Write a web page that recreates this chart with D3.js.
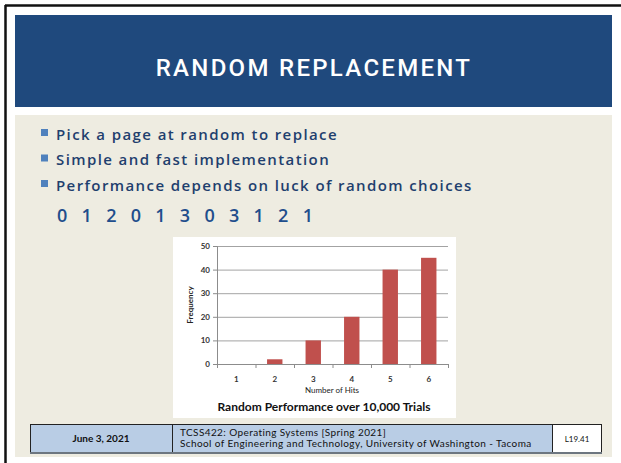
<!DOCTYPE html>
<html>
<head>
<meta charset="utf-8">
<script src="https://cdn.jsdelivr.net/npm/d3@7"></script>
<style>
  body { margin: 0; background: #fff; }
  svg { display: block; }
</style>
</head>
<body>
<script>
const width = 621;
const height = 463;

// chart data
const hits = ["1", "2", "3", "4", "5", "6"];
const frequency = [0, 2, 10, 20, 40, 45];
const yTicks = [0, 10, 20, 30, 40, 50];

// slide text
const title = "RANDOM REPLACEMENT";
const bullets = [
  "Pick a page at random to replace",
  "Simple and fast implementation",
  "Performance depends on luck of random choices"
];
const refString = "0 1 2 0 1 3 0 3 1 2 1";

const svg = d3.select("body").append("svg")
  .attr("width", width)
  .attr("height", height);

// slide frame
svg.append("rect").attr("x", 0).attr("y", 0).attr("width", width).attr("height", height).attr("fill", "#fff");
svg.append("line").attr("x1", 5).attr("x2", width).attr("y1", 5.5).attr("y2", 5.5)
  .attr("stroke", "#111").attr("stroke-width", 2.5);
svg.append("line").attr("x1", 5.5).attr("x2", 5.5).attr("y1", 5).attr("y2", height)
  .attr("stroke", "#111").attr("stroke-width", 2.5);

// header
svg.append("rect").attr("x", 15).attr("y", 15).attr("width", 597).attr("height", 92).attr("fill", "#1f497d");
svg.append("text")
  .attr("x", 314).attr("y", 76)
  .attr("text-anchor", "middle")
  .attr("fill", "#fff")
  .style("font-family", "Roboto, sans-serif")
  .style("font-weight", "500")
  .style("font-size", "24px")
  .style("letter-spacing", "2.3px")
  .text(title);

// body
svg.append("rect").attr("x", 15).attr("y", 115).attr("width", 597).attr("height", 342).attr("fill", "#eeece1");

const bl = svg.append("g");
bullets.forEach((t, i) => {
  const yy = 134 + i * 25.5;
  bl.append("rect").attr("x", 41).attr("y", yy - 5).attr("width", 7).attr("height", 7).attr("fill", "#4f81bd");
  bl.append("text")
    .attr("x", 56).attr("y", yy + 5.5)
    .attr("fill", "#1f3f6e")
    .style("font-family", "'Open Sans', sans-serif")
    .style("font-weight", "600")
    .style("font-size", "15px")
    .style("letter-spacing", "1.4px")
    .text(t);
});
svg.append("text")
  .attr("x", 57).attr("y", 222)
  .attr("fill", "#1f4e8c")
  .style("font-family", "'Open Sans', sans-serif")
  .style("font-weight", "600")
  .style("font-size", "18px")
  .style("letter-spacing", "4.8px")
  .attr("xml:space", "preserve")
  .text(refString);

// chart panel
svg.append("rect").attr("x", 173).attr("y", 237).attr("width", 283).attr("height", 181).attr("fill", "#fff");

const margin = {top: 246, bottom: 364, left: 217, right: 448};

const x = d3.scaleBand()
  .domain(hits)
  .range([margin.left, margin.right])
  .paddingInner(0.6)
  .paddingOuter(0.3);

const y = d3.scaleLinear()
  .domain([0, 50])
  .range([margin.bottom, margin.top]);

const tickFont = g => g.selectAll("text")
  .style("font-family", "Lato, sans-serif")
  .style("font-weight", "bold")
  .style("font-size", "8px")
  .attr("fill", "#333");

// gridlines
svg.append("g")
  .selectAll("line")
  .data(yTicks.filter(d => d > 0))
  .join("line")
  .attr("x1", margin.left).attr("x2", margin.right)
  .attr("y1", d => y(d) + 0.5).attr("y2", d => y(d) + 0.5)
  .attr("stroke", "#8c8c8c").attr("stroke-width", 0.8);

// y axis
svg.append("g")
  .attr("transform", `translate(${margin.left},0)`)
  .call(d3.axisLeft(y).tickValues(yTicks).tickSize(4).tickPadding(3))
  .call(g => g.selectAll("line, .domain").attr("stroke", "#8c8c8c"))
  .call(tickFont);

// bars
svg.append("g")
  .selectAll("rect")
  .data(hits.map((h, i) => ({h, v: frequency[i]})))
  .join("rect")
  .attr("x", d => x(d.h))
  .attr("width", x.bandwidth())
  .attr("y", d => y(d.v))
  .attr("height", d => y(0) - y(d.v))
  .attr("fill", "#c0504d");

// x axis
const step = x.step();
const gap = step - x.bandwidth();
const bounds = hits.map(h => x(h) - gap / 2).concat([x(hits[hits.length - 1]) + x.bandwidth() + gap / 2]);
svg.append("g")
  .attr("transform", `translate(0,${margin.bottom})`)
  .call(d3.axisBottom(x).tickSize(0).tickPadding(12).tickSizeOuter(0))
  .call(g => g.select(".domain").attr("stroke", "#8c8c8c"))
  .call(tickFont)
  .call(g => g.selectAll(".bound")
    .data(bounds)
    .join("line")
    .attr("class", "bound")
    .attr("x1", d => d + 0.5).attr("x2", d => d + 0.5)
    .attr("y1", 0).attr("y2", 4)
    .attr("stroke", "#8c8c8c"));

svg.append("text")
  .attr("x", 332).attr("y", 393)
  .attr("text-anchor", "middle")
  .style("font-family", "Lato, sans-serif")
  .style("font-size", "8px")
  .attr("fill", "#222")
  .text("Number of Hits");

svg.append("text")
  .attr("transform", "translate(193,305) rotate(-90)")
  .attr("text-anchor", "middle")
  .style("font-family", "Lato, sans-serif")
  .style("font-weight", "bold")
  .style("font-size", "8px")
  .attr("fill", "#222")
  .text("Frequency");

svg.append("text")
  .attr("x", 324).attr("y", 411)
  .attr("text-anchor", "middle")
  .style("font-family", "Lato, sans-serif")
  .style("font-weight", "bold")
  .style("font-size", "12px")
  .attr("fill", "#111")
  .text("Random Performance over 10,000 Trials");

// footer
const foot = svg.append("g");
foot.append("rect").attr("x", 30.5).attr("y", 424.5).attr("width", 522).attr("height", 28)
  .attr("fill", "#b9cde5").attr("stroke", "#222").attr("stroke-width", 1);
foot.append("rect").attr("x", 552.5).attr("y", 424.5).attr("width", 49).attr("height", 28)
  .attr("fill", "#fff").attr("stroke", "#222").attr("stroke-width", 1);
foot.append("line").attr("x1", 172.5).attr("x2", 172.5).attr("y1", 424.5).attr("y2", 452.5)
  .attr("stroke", "#222");
foot.append("line").attr("x1", 30).attr("x2", 602).attr("y1", 453).attr("y2", 453)
  .attr("stroke", "#6d7680").attr("stroke-width", 2);
foot.append("text").attr("x", 101).attr("y", 442)
  .attr("text-anchor", "middle")
  .style("font-family", "Lato, sans-serif").style("font-weight", "bold").style("font-size", "10px")
  .attr("fill", "#111").text("June 3, 2021");
foot.append("text").attr("x", 180).attr("y", 435.5)
  .style("font-family", "Lato, sans-serif").style("font-size", "10px").style("letter-spacing", "0.4px")
  .attr("fill", "#111").text("TCSS422: Operating Systems [Spring 2021]");
foot.append("text").attr("x", 180).attr("y", 447)
  .style("font-family", "Lato, sans-serif").style("font-size", "10px").style("letter-spacing", "0.4px")
  .attr("fill", "#111").text("School of Engineering and Technology, University of Washington - Tacoma");
foot.append("text").attr("x", 577).attr("y", 442)
  .attr("text-anchor", "middle")
  .style("font-family", "Lato, sans-serif").style("font-size", "8px")
  .attr("fill", "#111").text("L19.41");
</script>
</body>
</html>
